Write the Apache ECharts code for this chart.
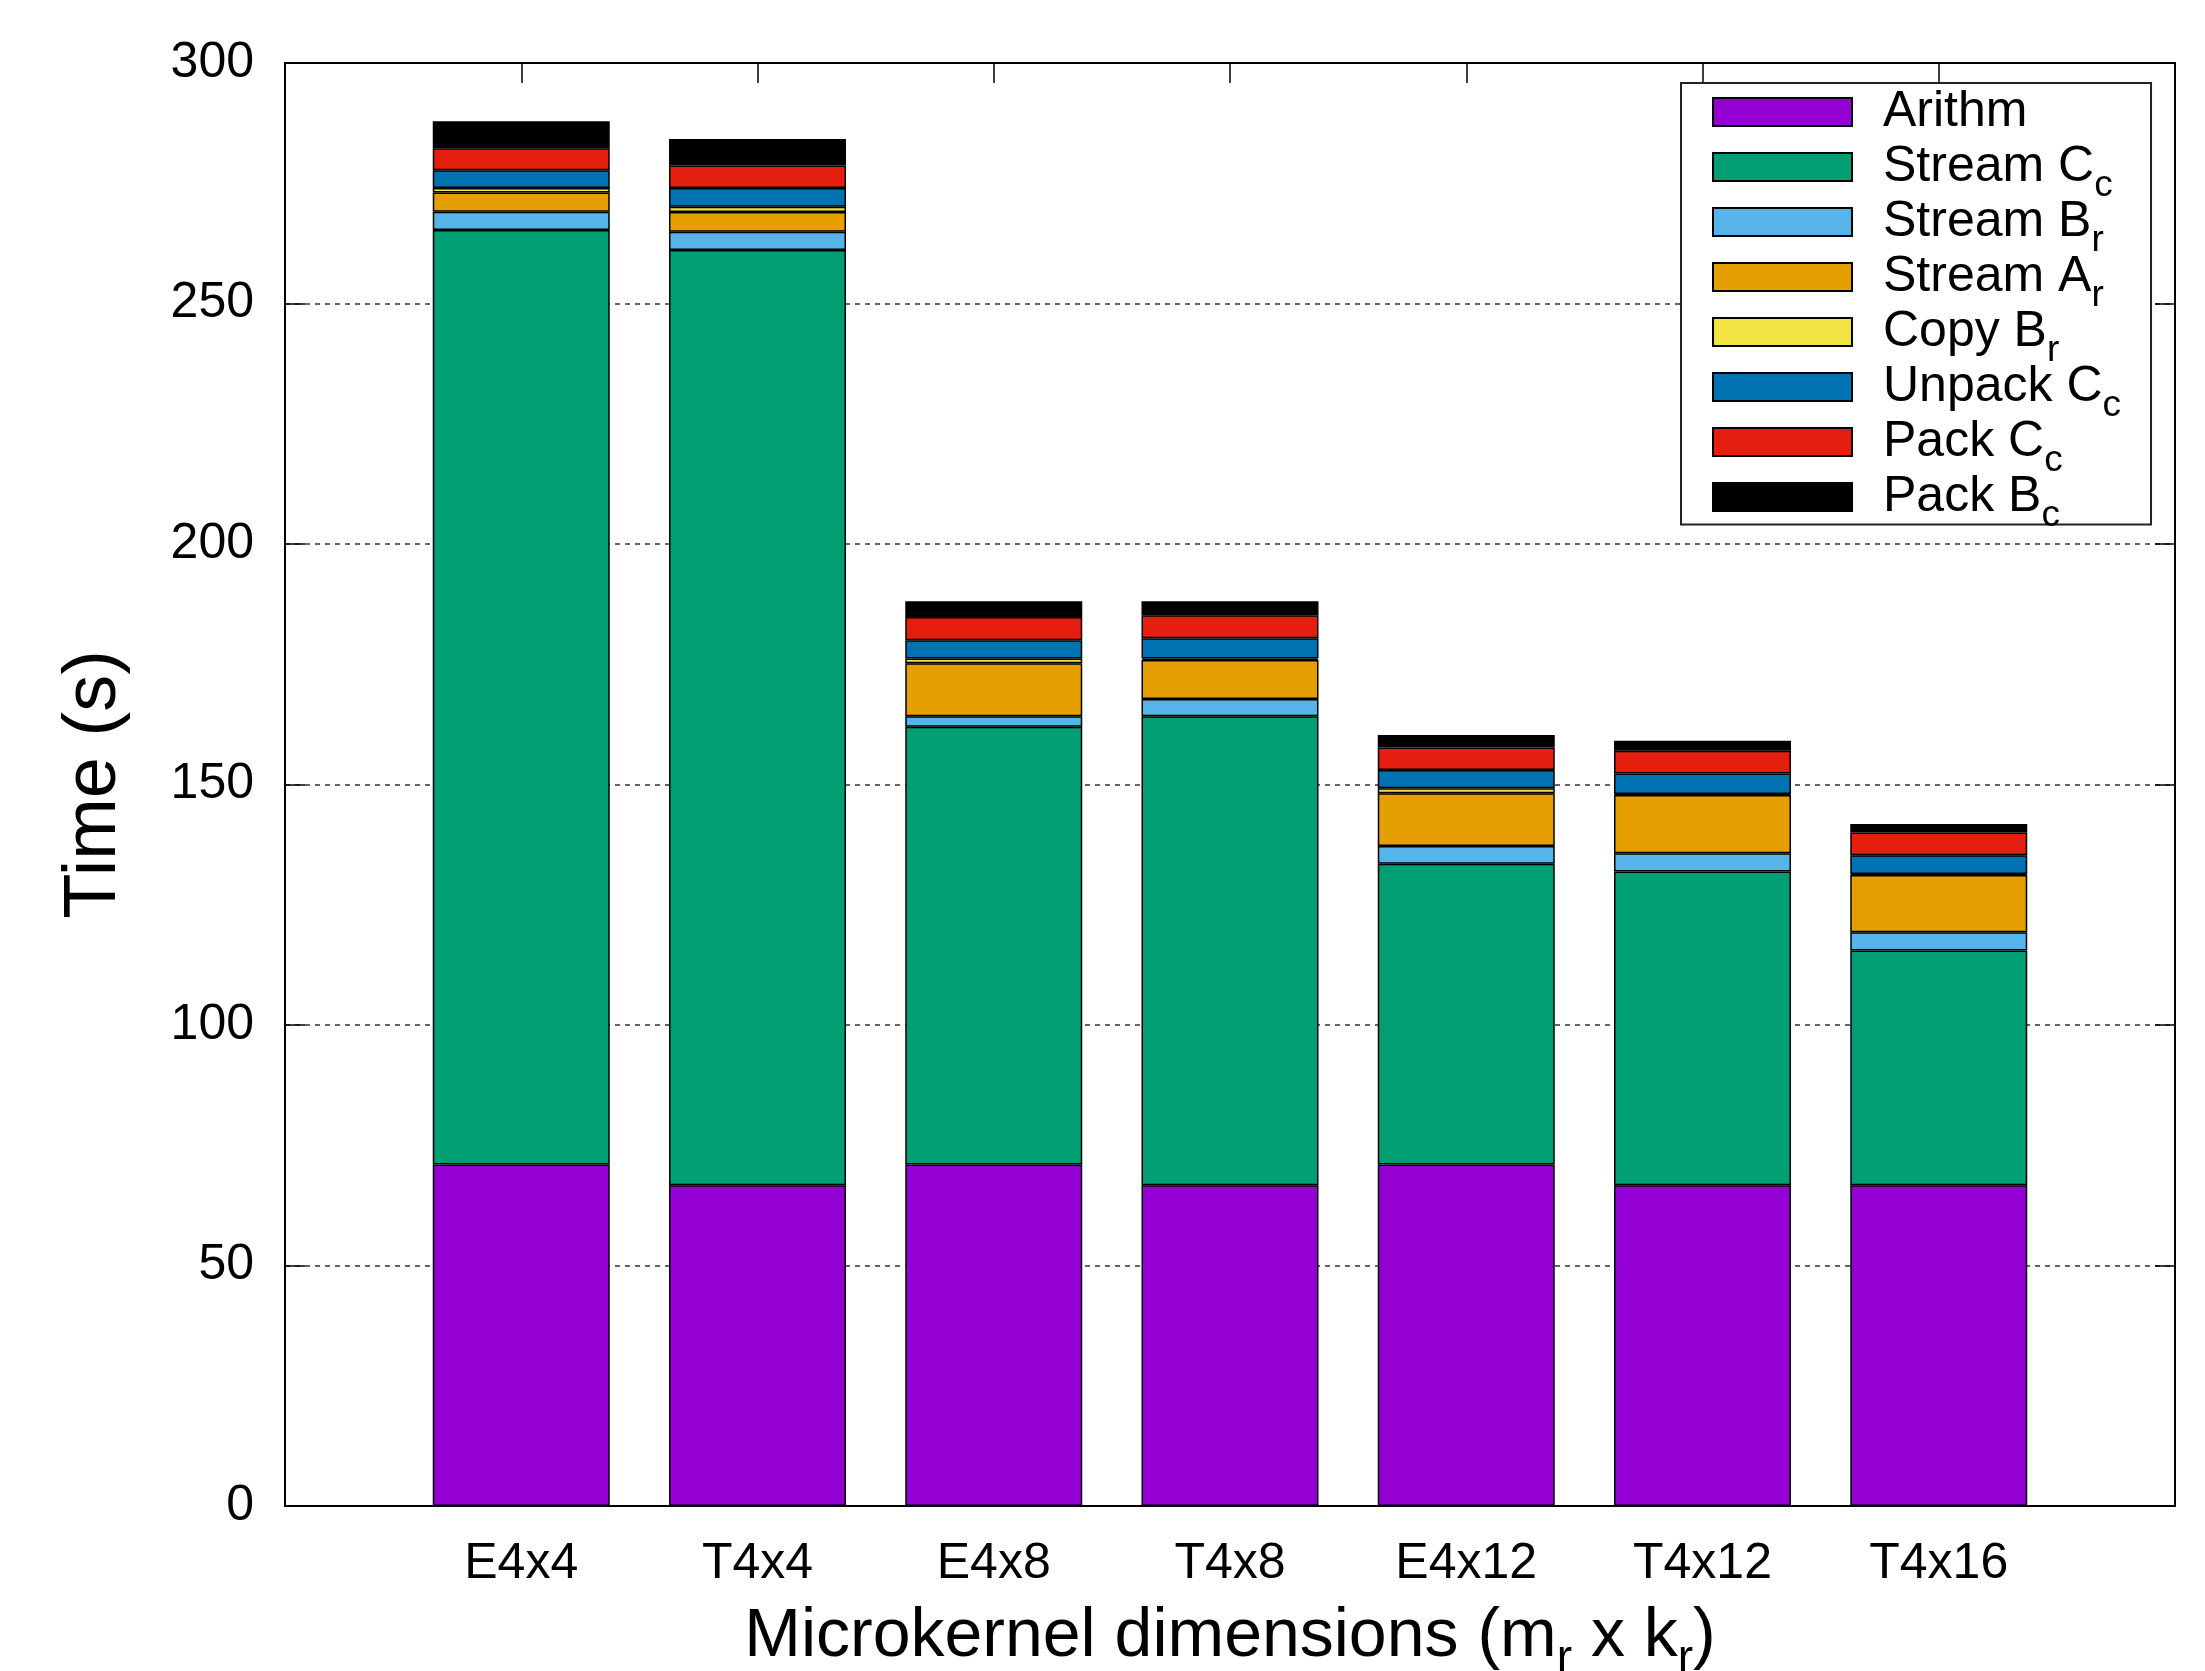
<!DOCTYPE html>
<html>
<head>
<meta charset="utf-8">
<script src="https://cdn.jsdelivr.net/npm/echarts@6/dist/echarts.min.js"></script>
<style>
  html, body { margin: 0; padding: 0; background: #fff; }
  #chart { width: 2205px; height: 1671px; }
</style>
</head>
<body>
<div id="chart"></div>
<script>
// microkernel variants on the x axis
var categories = ['E4x4', 'T4x4', 'E4x8', 'T4x8', 'E4x12', 'T4x12', 'T4x16'];

// time per component (s), stacked bottom to top
var arithm   = [71.0, 66.7, 71.0, 66.7, 71.0, 66.7, 66.7];
var streamCc = [194.3, 194.4, 91.0, 97.5, 62.5, 65.2, 48.8];
var streamBr = [3.8, 3.8, 2.2, 3.6, 3.7, 3.8, 3.8];
var streamAr = [4.0, 4.1, 11.0, 8.1, 11.0, 12.1, 11.9];
var copyBr   = [0.9, 1.1, 1.0, 0.3, 1.0, 0.2, 0.2];
var unpackCc = [3.7, 3.9, 3.8, 4.2, 3.8, 4.3, 3.9];
var packCc   = [4.6, 4.7, 4.8, 4.8, 4.7, 4.7, 4.7];
var packBc   = [5.6, 5.5, 3.3, 2.9, 2.6, 2.1, 1.8];

var yTicks = [0, 50, 100, 150, 200, 250, 300];

// name_sub -> "name{sub|x}"
var seriesNames = ['Arithm', 'Stream C_c', 'Stream B_r', 'Stream A_r', 'Copy B_r', 'Unpack C_c', 'Pack C_c', 'Pack B_c'];
var seriesData = [arithm, streamCc, streamBr, streamAr, copyBr, unpackCc, packCc, packBc];
var colors = ['#9400d3', '#009e73', '#56b4e9', '#e69f00', '#f0e442', '#0072b2', '#e51e10', '#000000'];

var FONT = 'Liberation Sans';

// every legend row gets a sub token so all rows are the same height
function richName(n) {
    var i = n.indexOf('_');
    if (i < 0) return '{n|' + n + '}{sub| }';
    return '{n|' + n.slice(0, i) + '}{sub|' + n.slice(i + 1) + '}';
}

// one empty slot each side, like xrange [-1:7]
var xCats = [''].concat(categories).concat(['']);

var chart = echarts.init(document.getElementById('chart'));

var series = seriesNames.map(function (name, k) {
    return {
        name: name,
        type: 'bar',
        stack: 'total',
        barWidth: 177,
        data: ['-'].concat(seriesData[k]).concat(['-']),
        itemStyle: {
            color: colors[k],
            borderColor: '#000',
            borderWidth: 1.5
        },
        emphasis: { disabled: true }
    };
});

var frameAxis = {
    axisLine: { show: true, onZero: false, lineStyle: { color: '#000', width: 2 } },
    axisTick: { show: true, inside: true, length: 20, lineStyle: { color: '#000', width: 1.5 } }
};

chart.setOption({
    backgroundColor: '#fff',
    animation: false,
    textStyle: { fontFamily: FONT, color: '#000' },
    grid: { left: 285, right: 30, top: 63, bottom: 165, outerBoundsMode: 'none', containLabel: false },
    legend: {
        data: seriesNames,
        orient: 'vertical',
        left: 1681,
        top: 83,
        icon: 'rect',
        itemWidth: 139,
        itemHeight: 28,
        itemGap: -7.5,
        selectedMode: false,
        backgroundColor: '#fff',
        borderColor: '#222',
        borderWidth: 2,
        padding: [4, 30, -10, 31],
        formatter: richName,
        textStyle: {
            fontFamily: FONT,
            fontSize: 50,
            lineHeight: 50,
            color: '#000',
            padding: [0, 0, 0, 26],
            rich: {
                n: { fontFamily: FONT, fontSize: 50, lineHeight: 50, color: '#000' },
                sub: { fontFamily: FONT, fontSize: 37, lineHeight: 50, height: 10, color: '#000', padding: [38, 0, 0, 0] }
            }
        }
    },
    xAxis: [{
        type: 'category',
        data: xCats,
        boundaryGap: false,
        position: 'bottom',
        name: 'Microkernel dimensions (m{sub|r} x k{sub|r})',
        nameLocation: 'middle',
        nameGap: 91,
        nameTextStyle: {
            fontFamily: FONT,
            fontSize: 68,
            lineHeight: 80,
            color: '#000',
            rich: {
                sub: { fontFamily: FONT, fontSize: 46, lineHeight: 80, height: 10, color: '#000', padding: [44, 0, 0, 0] }
            }
        },
        axisLine: frameAxis.axisLine,
        axisTick: frameAxis.axisTick,
        axisLabel: { interval: 0, margin: 33, fontSize: 50, fontFamily: FONT, color: '#000' },
        splitLine: { show: false }
    }, {
        type: 'category',
        data: xCats,
        boundaryGap: false,
        position: 'top',
        axisLine: frameAxis.axisLine,
        axisTick: frameAxis.axisTick,
        axisLabel: { show: false },
        splitLine: { show: false }
    }],
    yAxis: [{
        type: 'value',
        min: yTicks[0],
        max: yTicks[yTicks.length - 1],
        interval: 50,
        name: 'Time (s)',
        nameLocation: 'middle',
        nameGap: 148,
        nameTextStyle: { fontFamily: FONT, fontSize: 74, lineHeight: 84, color: '#000' },
        axisLine: frameAxis.axisLine,
        axisTick: frameAxis.axisTick,
        axisLabel: { margin: 31, fontSize: 50, fontFamily: FONT, color: '#000' },
        splitLine: { show: true, lineStyle: { color: '#333', width: 1.5, type: [5, 5] } }
    }, {
        type: 'value',
        min: yTicks[0],
        max: yTicks[yTicks.length - 1],
        interval: 50,
        position: 'right',
        axisLine: frameAxis.axisLine,
        axisTick: frameAxis.axisTick,
        axisLabel: { show: false },
        splitLine: { show: false }
    }],
    series: series
});
</script>
</body>
</html>
